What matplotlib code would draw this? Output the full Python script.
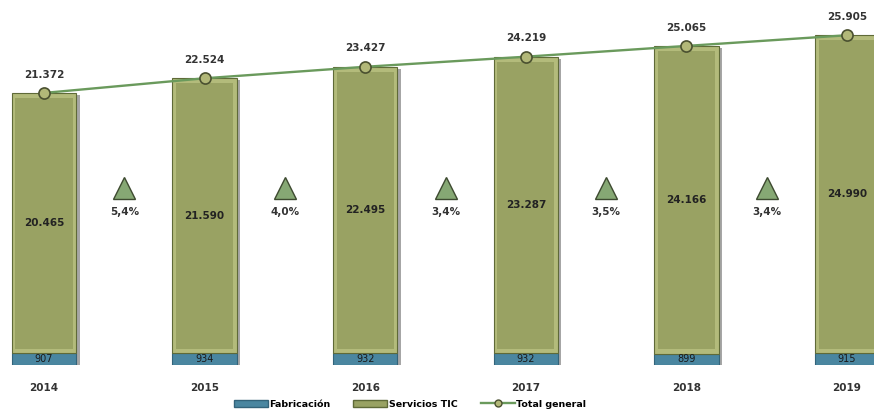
import matplotlib
matplotlib.use("Agg")
import matplotlib.pyplot as plt
from matplotlib.patches import Patch
from matplotlib.lines import Line2D

years = ["2014", "2015", "2016", "2017", "2018", "2019"]
fabricacion = [907, 934, 932, 932, 899, 915]
servicios = [20465, 21590, 22495, 23287, 24166, 24990]
total = [21372, 22524, 23427, 24219, 25065, 25905]
growth = ["5,4%", "4,0%", "3,4%", "3,5%", "3,4%"]

def fmt(v):
    return f"{v:,}".replace(",", ".")

plt.rcParams['font.family'] = ['DejaVu Sans']
fig = plt.figure(figsize=(8.74, 4.11), dpi=100)
ax = fig.add_axes([0, 46/411, 1, 365/411])
ax.set_xlim(-0.274, 5.168)
ax.set_ylim(0, 28673)
ax.axis('off')

x = list(range(len(years)))
w = 0.40
blue = "#4a86a0"
olive = "#99a263"
olive_light = "#b3bb7b"

# shadows
ax.bar([i + 0.022 for i in x], [t - 150 for t in total], width=w, color="#000000", alpha=0.35, zorder=1)
# fabricacion
ax.bar(x, fabricacion, width=w, color=blue, edgecolor="#33637a", linewidth=0.8, zorder=2)
# servicios bevel
ax.bar(x, servicios, bottom=fabricacion, width=w, color=olive_light, edgecolor="#5f6a38", linewidth=0.8, zorder=2)
ax.bar(x, [s - 750 for s in servicios], bottom=[f + 350 for f in fabricacion], width=w - 0.045,
       color=olive, linewidth=0, zorder=3)

# total line
ax.plot(x, total, color="#6a9a5c", linewidth=1.7, zorder=4)
ax.plot(x, total, linestyle='none', marker='o', markersize=8, markerfacecolor="#b2b878",
        markeredgecolor="#4a5030", markeredgewidth=1.2, zorder=5)

for i in x:
    ax.text(i, total[i] + 1050, fmt(total[i]), ha='center', va='bottom', fontsize=7.5,
            fontweight='bold', color="#333333")
    ax.text(i, fabricacion[i] + servicios[i] / 2, fmt(servicios[i]), ha='center', va='center',
            fontsize=7.5, fontweight='bold', color="#222222", zorder=6)
    ax.text(i, fabricacion[i] / 2, fmt(fabricacion[i]), ha='center', va='center',
            fontsize=7, color="#1a1a1a", zorder=6)
    ax.text(i, -1800, years[i], ha='center', va='center', fontsize=7.5, fontweight='bold',
            color="#333333", clip_on=False)

for i, g in enumerate(growth):
    xm = i + 0.5
    ax.plot([xm], [13900], marker='^', markersize=16, markerfacecolor="#86a874",
            markeredgecolor="#3d4a30", markeredgewidth=1, linestyle='none', zorder=5)
    ax.text(xm, 12000, g, ha='center', va='center', fontsize=7.5, fontweight='bold', color="#333333")

handles = [Patch(facecolor=blue, edgecolor="#33637a", label="Fabricación"),
           Patch(facecolor=olive, edgecolor="#5f6a38", label="Servicios TIC"),
           Line2D([0], [0], color="#6a9a5c", linewidth=1.7, marker='o', markersize=5,
                  markerfacecolor="#b2b878", markeredgecolor="#4a5030", label="Total general")]
fig.legend(handles=handles, loc='center', bbox_to_anchor=(410/874, 1 - 404/411), ncol=3,
           frameon=False, handlelength=3.6, handleheight=0.7, handletextpad=0.2,
           columnspacing=2.4, prop={'weight': 'bold', 'size': 6.8})

fig.savefig("out.png", dpi=100)
